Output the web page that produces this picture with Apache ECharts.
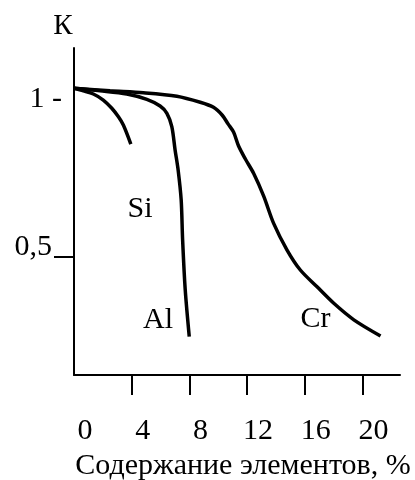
<!DOCTYPE html>
<html>
<head>
    <meta charset="utf-8">
    <title>K</title>
    <script src="https://cdn.jsdelivr.net/npm/echarts@6/dist/echarts.min.js"></script>
    <style>
        html, body {margin: 0; padding: 0; background: #ffffff;}
        #chart {width: 415px; height: 480px;}
    </style>
</head>
<body>
<div id="chart"></div>
<script>
    // кривые: содержание элемента, % -> K
    var siX = [0, 0.65, 1.34, 2.03, 2.62, 3.08, 3.42, 3.94];
    var siY = [1.031, 1.023, 1.013, 0.994, 0.968, 0.941, 0.915, 0.855];

    var alX = [0, 1.81, 3.66, 5.05, 5.97, 6.44, 6.78, 7.01, 7.22, 7.43, 7.53, 7.71, 7.99];
    var alY = [1.031, 1.023, 1.013, 0.996, 0.975, 0.952, 0.910, 0.836, 0.773, 0.679, 0.553, 0.396, 0.248];

    var crX = [0, 2.5, 4.81, 7.13, 8.75, 9.67, 10.28, 10.69, 11.06, 11.41, 11.88, 12.45, 13.15, 13.84, 14.77, 15.69, 16.85, 18.01, 19.40, 21.25];
    var crY = [1.031, 1.023, 1.017, 1.006, 0.987, 0.971, 0.946, 0.918, 0.893, 0.849, 0.808, 0.763, 0.691, 0.605, 0.521, 0.458, 0.405, 0.353, 0.301, 0.250];

    var xTickValues = [4, 8, 12, 16, 20];
    var xLabelValues = [0, 4, 8, 12, 16, 20];
    var yLabelValues = [0.5, 1];
    var yTickValues = [0.5];

    // подписи кривых (в координатах графика)
    var curveNames = ['Si', 'Al', 'Cr'];
    var curveNameAt = [[4.58, 0.650], [5.83, 0.300], [16.74, 0.304]];

    var font = 'Liberation Serif, Times New Roman, serif';

    function pairs(xs, ys) {
        var out = [];
        for (var i = 0; i < xs.length; i++) {
            out.push([xs[i], ys[i]]);
        }
        return out;
    }

    var chart = echarts.init(document.getElementById('chart'));

    var lineStyle = {color: '#000', width: 3.5};

    var option = {
        animation: false,
        backgroundColor: '#fff',
        textStyle: {fontFamily: font, color: '#000'},
        grid: {left: 74, right: 15, top: 48, bottom: 105, containLabel: false, outerBoundsMode: 'none'},
        xAxis: {
            type: 'value',
            min: 0,
            max: 22.6,
            interval: 4,
            name: 'Содержание элементов, %',
            nameLocation: 'middle',
            nameGap: 74,
            nameTextStyle: {fontFamily: font, fontSize: 30, color: '#000', padding: [0, 0, 0, 12]},
            splitLine: {show: false},
            axisLine: {lineStyle: {color: '#000', width: 2}},
            axisTick: {customValues: xTickValues, length: 20, lineStyle: {color: '#000', width: 2}},
            axisLabel: {
                customValues: xLabelValues,
                margin: 41,
                fontFamily: font,
                fontSize: 30,
                color: '#000',
                padding: [0, 0, 0, 22]
            }
        },
        yAxis: {
            type: 'value',
            min: 0.127,
            max: 1.158,
            name: 'К',
            nameLocation: 'end',
            nameGap: 7,
            nameTextStyle: {fontFamily: font, fontSize: 29, color: '#000', padding: [0, 22, 0, 0]},
            splitLine: {show: false},
            axisLine: {lineStyle: {color: '#000', width: 2}},
            axisTick: {customValues: yTickValues, length: 20, lineStyle: {color: '#000', width: 2}},
            axisLabel: {
                customValues: yLabelValues,
                margin: 12,
                fontFamily: font,
                fontSize: 30,
                color: '#000',
                formatter: function (v) {
                    return v === 1 ? '{one|1 -}' : '{half|0,5}';
                },
                rich: {
                    one: {fontFamily: font, fontSize: 30, color: '#000', padding: [2, 0, 0, 0]},
                    half: {fontFamily: font, fontSize: 30, color: '#000', padding: [0, 10, 19, 0]}
                }
            }
        },
        series: [
            {
                name: 'Si', type: 'line', smooth: 0.3, showSymbol: false,
                lineStyle: lineStyle, data: pairs(siX, siY)
            },
            {
                name: 'Al', type: 'line', smooth: 0.3, showSymbol: false,
                lineStyle: lineStyle, data: pairs(alX, alY)
            },
            {
                name: 'Cr', type: 'line', smooth: 0.3, showSymbol: false,
                lineStyle: lineStyle, data: pairs(crX, crY),
                markPoint: {
                    symbol: 'circle',
                    symbolSize: 0,
                    silent: true,
                    label: {
                        show: true,
                        position: 'inside',
                        fontFamily: font,
                        fontSize: 30,
                        color: '#000',
                        formatter: function (p) { return p.name; }
                    },
                    data: curveNames.map(function (n, i) {
                        return {name: n, coord: curveNameAt[i]};
                    })
                }
            }
        ]
    };
    chart.setOption(option);

    window.onresize = function () {
        chart.resize();
    };
</script>
</body>
</html>
